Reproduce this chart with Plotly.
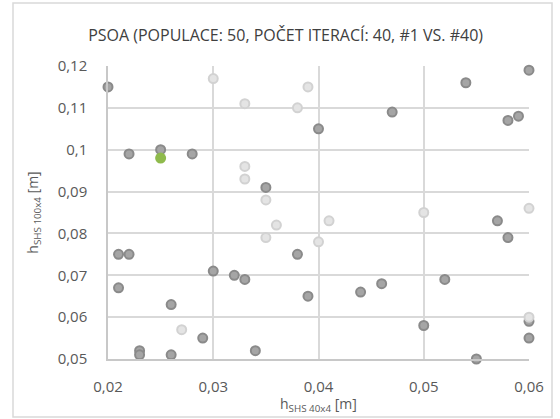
import plotly.graph_objects as go

# Iterace #40 (tmavé body)
dark_x = [0.020, 0.022, 0.025, 0.028, 0.035, 0.040, 0.047, 0.054, 0.060, 0.058, 0.059,
          0.038, 0.021, 0.022, 0.021, 0.030, 0.032, 0.033, 0.039, 0.026, 0.029, 0.023,
          0.023, 0.026, 0.034, 0.057, 0.058, 0.052, 0.046, 0.044, 0.050, 0.055, 0.060, 0.060]
dark_y = [0.115, 0.099, 0.100, 0.099, 0.091, 0.105, 0.109, 0.116, 0.119, 0.107, 0.108,
          0.075, 0.075, 0.075, 0.067, 0.071, 0.070, 0.069, 0.065, 0.063, 0.055, 0.052,
          0.051, 0.051, 0.052, 0.083, 0.079, 0.069, 0.068, 0.066, 0.058, 0.050, 0.059, 0.055]

# Iterace #1 (světlé body)
light_x = [0.030, 0.033, 0.033, 0.033, 0.035, 0.038, 0.039, 0.036, 0.035, 0.027,
           0.041, 0.040, 0.050, 0.060, 0.060]
light_y = [0.117, 0.111, 0.096, 0.093, 0.088, 0.110, 0.115, 0.082, 0.079, 0.057,
           0.083, 0.078, 0.085, 0.086, 0.060]

# nejlepší řešení
best_x = [0.025]
best_y = [0.098]

FONT = "Open Sans"
GREY = "#595959"

fig = go.Figure()

fig.add_trace(go.Scatter(
    x=dark_x, y=dark_y, mode="markers", name="#40",
    marker=dict(size=9, color="#a5a5a5", line=dict(color="#8a8a8a", width=2)),
    cliponaxis=False
))
fig.add_trace(go.Scatter(
    x=light_x, y=light_y, mode="markers", name="#1",
    marker=dict(size=9, color="#e4e4e4", line=dict(color="#d2d2d2", width=2)),
    cliponaxis=False
))
fig.add_trace(go.Scatter(
    x=best_x, y=best_y, mode="markers", name="best",
    marker=dict(size=11, color="#8fba4c", line=dict(width=0)),
    cliponaxis=False
))

fig.update_layout(
    width=560, height=419,
    margin=dict(l=108, r=31, t=66, b=60),
    paper_bgcolor="white",
    plot_bgcolor="white",
    showlegend=False,
    font=dict(family=FONT, color=GREY),
    title=dict(
        text="PSOA (POPULACE: 50, POČET ITERACÍ: 40, #1 VS. #40)",
        font=dict(family=FONT, size=16, color="#404040"),
        x=0.51, xanchor="center", y=0.915, yanchor="middle"
    ),
    xaxis=dict(
        range=[0.02, 0.06], dtick=0.01, tick0=0.02,
        tickformat=".2f", automargin=False,
        showgrid=True, gridcolor="#d9d9d9", gridwidth=1.5,
        showline=True, linecolor="#c8c8c8", linewidth=1.5,
        zeroline=False, ticks="", ticklabelstandoff=13,
        tickfont=dict(size=15, color=GREY),
    ),
    yaxis=dict(
        range=[0.05, 0.12], dtick=0.01, tick0=0.05,
        tickformat=".2~f", automargin=False,
        showgrid=True, gridcolor="#d9d9d9", gridwidth=1.5,
        showline=True, linecolor="#c8c8c8", linewidth=1.5,
        zeroline=False, ticks="", ticklabelstandoff=16,
        tickfont=dict(size=15, color=GREY),
        title=dict(text="h<sub>SHS 100x4</sub> [m]", font=dict(size=14, color=GREY), standoff=16)
    ),
    separators=", ",
)

# popisek osy x
fig.add_annotation(text="h<sub>SHS 40x4</sub> [m]", xref="paper", yref="paper",
                   x=0.5, y=-45 / 293, xanchor="center", yanchor="middle",
                   showarrow=False, font=dict(size=14, color=GREY))

# rámeček grafu
fig.add_shape(type="rect", xref="paper", yref="paper",
              x0=-95 / 421, x1=444 / 421, y0=-58 / 293, y1=356 / 293,
              line=dict(color="#d9d9d9", width=1.5), layer="above")

fig.write_html("out.html", config={"displayModeBar": False},
               post_script="document.body.style.margin='0';")
